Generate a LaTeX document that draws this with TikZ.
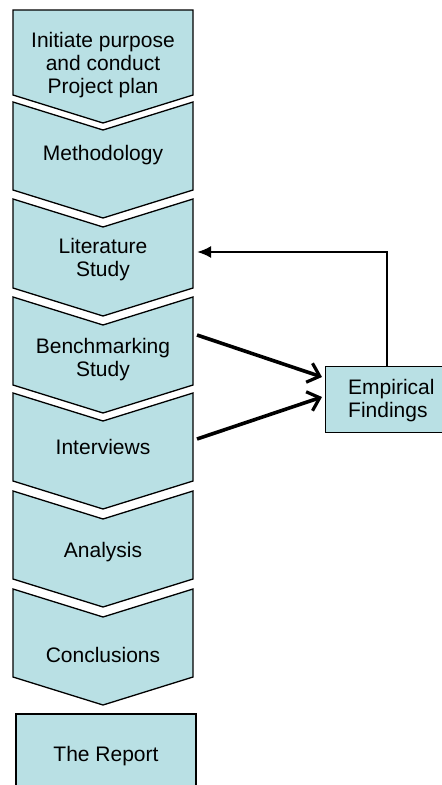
\documentclass[tikz,border=0pt]{standalone}
\usepackage{fontspec}
\setmainfont{Liberation Sans}
\usetikzlibrary{arrows.meta}
\definecolor{boxfill}{RGB}{185,224,228}
\tikzset{
  chev/.style={draw=black, fill=boxfill, line width=1.3pt, line join=miter},
  lbl/.style={align=center, font=\fontsize{21}{23}\selectfont, inner sep=0pt},
  flowarrow/.style={line width=3.6pt, -{Straight Barb[length=11pt,width=20pt,line width=3.2pt]}},
  backarrow/.style={line width=2.4pt, -{Latex[length=14pt,width=12pt]}}
}
\newcommand{\chevron}[2]{%
  \path[chev] (13,#1) -- (103,#1+28) -- (193,#1) -- (193,#2) -- (103,#2+28) -- (13,#2) -- cycle;}
\begin{document}
\begin{tikzpicture}[x=1pt,y=-1pt]
\useasboundingbox (0,0) rectangle (442,785);
% first chevron, flat top
\path[chev] (13,10) -- (193,10) -- (193,95) -- (103,123) -- (13,95) -- cycle;
\chevron{102}{190}
\chevron{199}{288}
\chevron{297}{385}
\chevron{393}{481}
\chevron{491}{579}
\chevron{589}{677}
% report box
\path[chev] (16,714) rectangle (196,790);
% empirical box
\node[chev, anchor=north west, minimum width=118pt, minimum height=66pt, inner sep=0pt] (emp) at (325,366) {};

\node[lbl] (t1) at (103,65) {Initiate purpose\\and conduct\\Project plan};
\node[lbl] (t2) at (103,155) {Methodology};
\node[lbl] (t3) at (103,260) {Literature\\Study};
\node[lbl] (t4) at (103,360) {Benchmarking\\Study};
\node[lbl] (t5) at (103,447) {Interviews};
\node[lbl] (t6) at (103,552) {Analysis};
\node[lbl] (t7) at (103,655) {Conclusions};
\node[lbl] (t8) at (106,756) {The Report};
\node[lbl, align=left, anchor=west] (te) at (348,401) {Empirical\\Findings};

\coordinate (litR) at (197,252);
\coordinate (benR) at (197,335);
\coordinate (intR) at (197,439);
\coordinate (empIn1) at (322,377);
\coordinate (empIn2) at (322,397);
\coordinate (empTop) at (387,366);

\draw[flowarrow] (benR) -- (empIn1);
\draw[flowarrow] (intR) -- (empIn2);
\draw[backarrow] (empTop) |- (litR);
\end{tikzpicture}
\end{document}
